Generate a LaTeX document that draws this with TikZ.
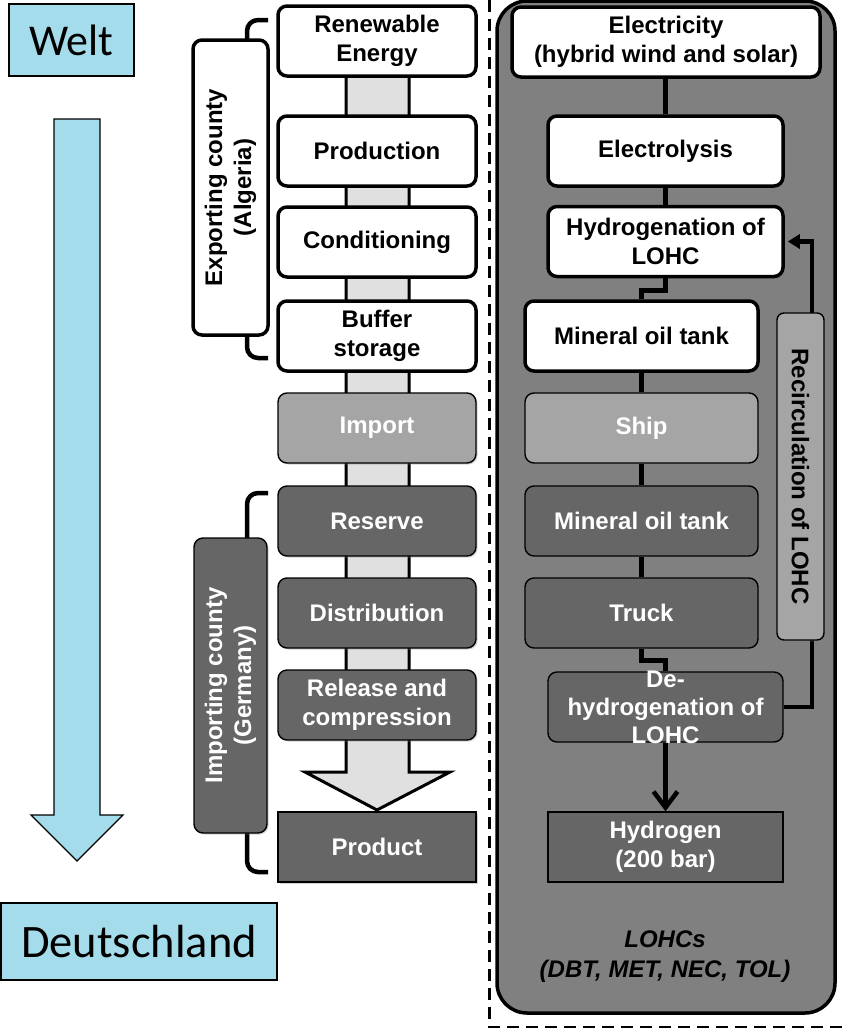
\documentclass[tikz,border=0pt]{standalone}
\usepackage{fontspec}
\setmainfont{Liberation Sans}
\newfontfamily\calfont{Carlito}
\usetikzlibrary{arrows.meta,shadows}
\definecolor{panelgray}{RGB}{128,128,128}
\definecolor{darkbox}{RGB}{102,102,102}
\definecolor{midbox}{RGB}{165,165,165}
\definecolor{shaftgray}{RGB}{224,224,224}
\definecolor{skyblue}{RGB}{165,220,235}
\tikzset{
  lbl/.style={font=\bfseries\fontsize{24}{29}\selectfont, align=center, inner sep=0pt},
  box/.style={lbl, rounded corners=9pt, minimum height=70pt},
  wbox/.style={box, fill=white, draw=black, line width=3.5pt},
  shad/.style={drop shadow={shadow xshift=1.5pt, shadow yshift=-1.5pt, opacity=0.35}},
  dbox/.style={box, shad, fill=darkbox, draw=black, line width=1.4pt, text=white},
  mbox/.style={box, shad, fill=midbox, draw=black, line width=1.4pt, text=white},
  mcol/.style={minimum width=198pt},
  rcol/.style={minimum width=235pt},
  tcol/.style={minimum width=233pt},
  conn/.style={line width=4.5pt},
  bluebox/.style={draw=black, line width=1.2pt, fill=skyblue, inner sep=0pt},
  brack/.style={line width=4.5pt, rounded corners=11pt},
}
\begin{document}
\begin{tikzpicture}[x=1pt,y=-1pt]
\useasboundingbox (0,0) rectangle (846,1028);

% ---- left: Welt -> Deutschland
\node[bluebox, minimum width=125pt, minimum height=72pt, font=\calfont\fontsize{44}{50}\selectfont] (welt) at (71.5,40) {Welt};
\node[bluebox, minimum width=276pt, minimum height=77pt, font=\calfont\fontsize{46.5}{52}\selectfont] (de) at (139,941.5) {Deutschland};
\draw[fill=skyblue, line width=1.2pt] (54,119) -- (100,119) -- (100,815) -- (123,815) -- (77,861) -- (31,815) -- (54,815) -- cycle;

% ---- dashed separator
\draw[line width=3pt, dash pattern=on 12pt off 7pt] (489,0) -- (489,1027) -- (846,1027);

% ---- middle: shaft arrow
\draw[fill=shaftgray, line width=3pt] (346,76) -- (346,772) -- (305,772) -- (377,810) -- (450,772) -- (409,772) -- (409,76);

% ---- brackets
\draw[brack] (268,20) -- (247,20) -- (247,358) -- (268,358);
\draw[brack] (268,493) -- (247,493) -- (247,872) -- (268,872);

\node[wbox, rotate=90, minimum width=295pt, minimum height=75pt] (exp) at (230.5,187.5) {Exporting county\\(Algeria)};
\node[dbox, rotate=90, minimum width=295pt, minimum height=73pt] (impc) at (230.5,685.5) {Importing county\\(Germany)};

% ---- middle column boxes
\node[wbox,mcol] (ren) at (377,41) {Renewable\\Energy};
\node[wbox,mcol] (prod) at (377,151) {Production};
\node[wbox,mcol] (cond) at (377,242) {Conditioning};
\node[wbox,mcol] (buf) at (377,336) {Buffer\\storage};
\node[mbox,mcol] (imp) at (377,428) {Import};
\node[dbox,mcol] (res) at (377,521) {Reserve};
\node[dbox,mcol] (dist) at (377,613) {Distribution};
\node[dbox,mcol] (rel) at (377,705) {Release and\\compression};
\node[dbox,mcol,sharp corners] (prodt) at (377,847) {Product};

% ---- right panel
\draw[fill=panelgray, line width=3.5pt, rounded corners=30pt] (497,1) rectangle (835,1013);

\node[wbox, minimum width=308pt] (elec) at (666,42) {Electricity\\(hybrid wind and solar)};
\node[wbox,rcol] (elys) at (665.5,151) {Electrolysis};
\node[wbox,rcol] (hyd) at (665.5,241.5) {Hydrogenation of\\LOHC};
\node[wbox,tcol] (mot1) at (641.5,336) {Mineral oil tank};
\node[mbox,tcol] (ship) at (641.5,428) {Ship};
\node[dbox,tcol] (mot2) at (641.5,521) {Mineral oil tank};
\node[dbox,tcol] (truck) at (641.5,613) {Truck};
\node[dbox,rcol] (dehyd) at (665.5,707) {};
\node[lbl, text=white, font=\bfseries\fontsize{24}{28}\selectfont] (dehydt) at (dehyd.center) {De-\\hydrogenation of\\LOHC};
\node[dbox,rcol,sharp corners] (h2) at (665.5,847) {Hydrogen\\(200 bar)};

\node[font=\bfseries\itshape\fontsize{24}{30}\selectfont, align=center, inner sep=0pt] (lohcs) at (665,957) {LOHCs\\(DBT, MET, NEC, TOL)};

% ---- connectors
\draw[conn] (elys.north |- elec.south) -- (elys.north);
\draw[conn] (elys.south) -- (hyd.north);
\draw[conn] (hyd.south) -- ++(0,12) -| (mot1.north);
\draw[conn] (mot1.south) -- (ship.north);
\draw[conn] (ship.south) -- (mot2.north);
\draw[conn] (mot2.south) -- (truck.north);
\draw[conn] (truck.south) -- ++(0,12) -| (dehyd.north);
\draw[conn, -{Straight Barb[length=16pt, width=24pt]}] (dehyd.south) -- (h2.north);
\coordinate (rx) at (812,0);
\draw[conn, shorten >=3pt, -{Triangle[length=12pt, width=14pt]}] (dehyd.east) -| (rx |- hyd.east) -- (hyd.east);

\node[mbox, text=black, rotate=-90, minimum width=327pt, minimum height=47pt, rounded corners=7pt] (recirc) at (800.5,476.5) {Recirculation of LOHC};
\end{tikzpicture}
\end{document}
